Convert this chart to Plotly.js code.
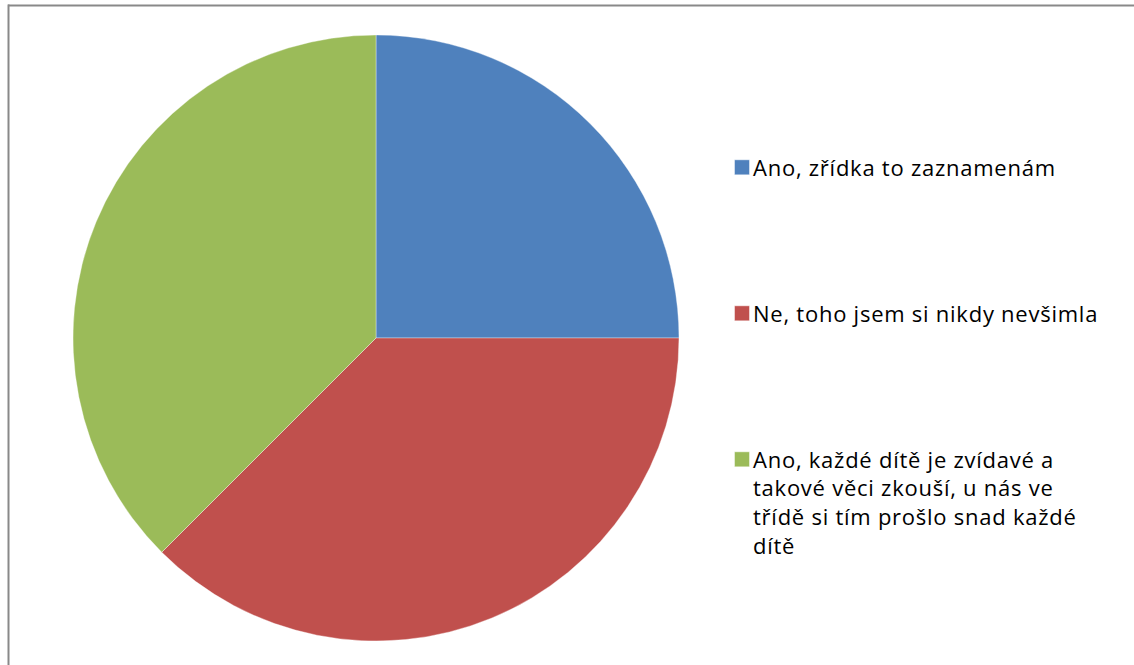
<!DOCTYPE html>
<html>
<head>
<meta charset="utf-8">
<script src="https://cdn.plot.ly/plotly-3.0.1.min.js"></script>
<style>
html,body{margin:0;padding:0;background:#fff;}
#chart{width:1134px;height:665px;}
#chart .legendtext{letter-spacing:0.75px;}
#chart .legendpoints path{transform:translate(29px,0px) scale(1.25);}
#chart .legend .scrollbox{clip-path:none !important;}
</style>
</head>
<body>
<div id="chart"></div>
<script>
// Data
var categories = [
  "Ano, zřídka to zaznamenám",
  "Ne, toho jsem si nikdy nevšimla",
  "Ano, každé dítě je zvídavé a<br>takové věci zkouší, u nás ve<br>třídě si tím prošlo snad každé<br>dítě"
];
var values = [2, 3, 3];
var colors = ["#4F81BD", "#C0504D", "#9BBB59"];

// legend spacing: pad single-line entries with blank lines (layout only)
var pad = "<br> <br> <br> <br> ";
var legendLabels = categories.map(function (c, i) {
  return i < categories.length - 1 ? c + pad : c;
});
var hoverNames = categories.map(function (c) { return c.replace(/<br>/g, " "); });

var W = 1134, H = 665;
var cx = 376, cy = 338, r = 303;

var trace = {
  type: "pie",
  labels: legendLabels,
  values: values,
  customdata: hoverNames,
  hovertemplate: "%{customdata}: %{value}<extra></extra>",
  marker: { colors: colors, line: { color: "rgba(255,255,255,0.6)", width: 0.6 } },
  sort: false,
  direction: "clockwise",
  rotation: 0,
  textinfo: "none",
  domain: {
    x: [(cx - r) / W, (cx + r) / W],
    y: [(H - cy - r) / H, (H - cy + r) / H]
  }
};

var layout = {
  width: W,
  height: H,
  margin: { l: 0, r: 0, t: 0, b: 0, pad: 0 },
  paper_bgcolor: "#ffffff",
  plot_bgcolor: "#ffffff",
  font: { family: "Open Sans, sans-serif", color: "#000000" },
  showlegend: true,
  legend: {
    x: 713 / W,
    xanchor: "left",
    y: 1 - 146.5 / H,
    yanchor: "top",
    valign: "top",
    font: { family: "Open Sans, sans-serif", size: 22, color: "#000000" },
    bgcolor: "rgba(0,0,0,0)",
    borderwidth: 0
  },
  shapes: [
    { type: "line", xref: "paper", yref: "paper",
      x0: 8 / W, x1: 1, y0: 1 - 5.5 / H, y1: 1 - 5.5 / H,
      line: { color: "#898989", width: 2 } },
    { type: "line", xref: "paper", yref: "paper",
      x0: 8.5 / W, x1: 8.5 / W, y0: 0, y1: 1 - 4.5 / H,
      line: { color: "#898989", width: 2 } }
  ]
};

Plotly.newPlot("chart", [trace], layout, { displayModeBar: false, staticPlot: true });
</script>
</body>
</html>
